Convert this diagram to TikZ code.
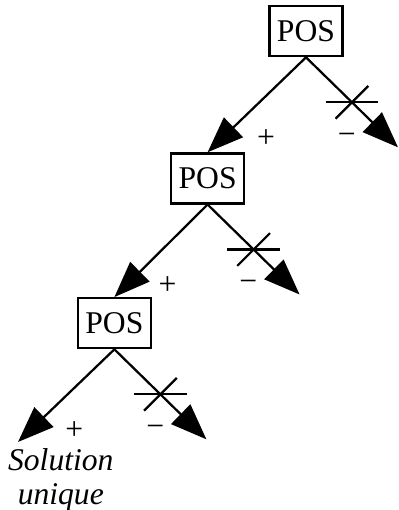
\documentclass[tikz,border=0pt]{standalone}
\usepackage{fontspec}
\setmainfont{Liberation Serif}
\usetikzlibrary{arrows.meta}

\begin{document}
\begin{tikzpicture}[
  every node/.style={font=\fontsize{22.5}{25}\selectfont},
  posbox/.style={draw,line width=1.6pt,minimum width=1.83cm,minimum height=1.25cm,inner sep=0pt},
  arr/.style={line width=1.6pt,-{Triangle[length=0.9cm,width=0.68cm]}},
  crossline/.style={line width=1.6pt},
  sign/.style={inner sep=0pt},
  soltext/.style={align=center,inner sep=0pt,font=\fontsize{22.5}{24}\selectfont\itshape}]
  \useasboundingbox (0,0) rectangle (9.95,-12.75);
  % the three tests
  \node[posbox] (pos1) at (7.65,-0.78) {POS};
  \node[posbox] (pos2) at (5.19,-4.46) {POS};
  \node[posbox] (pos3) at (2.86,-8.08) {POS};
  \node[soltext] (sol) at (1.52,-12.0) {Solution\\unique};
  % free ends
  \coordinate (yes3) at (0.45,-11.05);
  \foreach \i in {1,2,3}
    \path (pos\i.south) ++(2.3,-2.25) coordinate (no\i);
  % + branches
  \draw[arr] (pos1.south) -- (pos2.north);
  \draw[arr] (pos2.south) -- (pos3.north);
  \draw[arr] (pos3.south) -- (yes3);
  % - branches, crossed out
  \foreach \i in {1,2,3} {
    \draw[arr] (pos\i.south) -- coordinate (cut\i) (no\i);
    \draw[crossline] ([xshift=-0.66cm]cut\i) -- ([xshift=0.66cm]cut\i);
    \draw[crossline] ([shift={(-0.41,-0.41)}]cut\i) -- ([shift={(0.41,0.41)}]cut\i);
    \node[sign] (plus\i) at ([shift={(-1.0,-2.02)}]pos\i.south) {+};
    \node[sign] (minus\i) at ([shift={(1.02,-2.03)}]pos\i.south) {−};
  }
\end{tikzpicture}
\end{document}
